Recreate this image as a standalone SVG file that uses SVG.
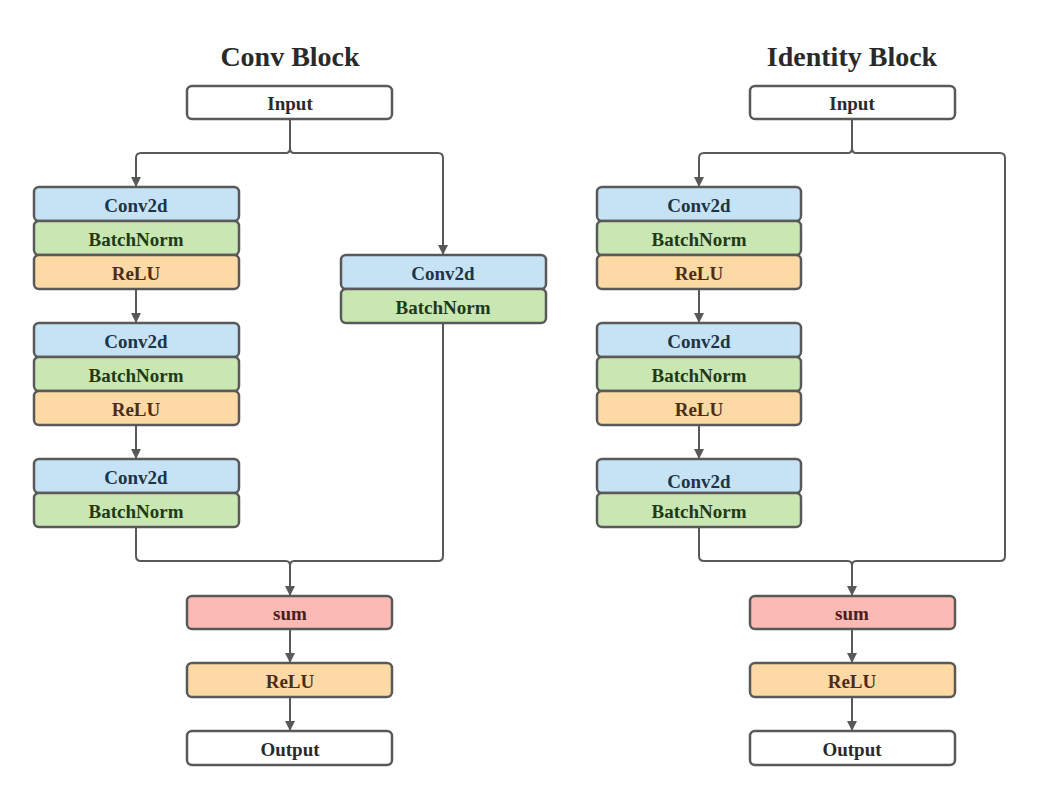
<svg xmlns="http://www.w3.org/2000/svg" width="1040" height="799" viewBox="0 0 1040 799">
<defs>
<marker id="ah" viewBox="0 0 10 10" refX="10" refY="5" markerWidth="10" markerHeight="10" markerUnits="userSpaceOnUse" orient="auto">
<path d="M0,0 L10,5 L0,10 Z" fill="#595959"/>
</marker>
<style>
.n{stroke:#595959;stroke-width:2.5}
.w{fill:#ffffff}.b{fill:#c6e3f6}.g{fill:#c9e7b2}.o{fill:#fdd9a6}.r{fill:#fbbab3}
text{font-family:"Liberation Serif","Times New Roman",serif;font-weight:bold;font-size:19px;text-anchor:middle}
.tw{fill:#2a2a2a}.tb{fill:#1e3447}.tg{fill:#1f3a18}.to{fill:#4a2e14}.tr{fill:#4a1e1e}
.title{font-size:28px;fill:#2a2a2a}
.c{fill:none;stroke:#595959;stroke-width:2}
</style>
</defs>
<rect width="1040" height="799" fill="#ffffff"/>
<text class="title" x="290" y="66">Conv Block</text>
<text class="title" x="852" y="66">Identity Block</text>

<g id="connectors">
<path class="c" d="M290,119 V148 Q290,153 286,153 H141 Q136,153 136,158 V187" marker-end="url(#ah)"/>
<path class="c" d="M290,148 Q290,153 294,153 H438 Q443,153 443,158 V255" marker-end="url(#ah)"/>
<path class="c" d="M136,289 V323" marker-end="url(#ah)"/>
<path class="c" d="M136,425 V459" marker-end="url(#ah)"/>
<path class="c" d="M136,527 V556 Q136,561 141,561 H286 Q290,561 290,566 V596" marker-end="url(#ah)"/>
<path class="c" d="M443,323 V556 Q443,561 438,561 H294 Q290,561 290,566"/>
<path class="c" d="M290,629 V663" marker-end="url(#ah)"/>
<path class="c" d="M290,697 V731" marker-end="url(#ah)"/>
<path class="c" d="M852,119 V148 Q852,153 848,153 H704 Q699,153 699,158 V187" marker-end="url(#ah)"/>
<path class="c" d="M852,148 Q852,153 856,153 H1000 Q1005,153 1005,158 V556 Q1005,561 1000,561 H856 Q852,561 852,566"/>
<path class="c" d="M699,289 V323" marker-end="url(#ah)"/>
<path class="c" d="M699,425 V459" marker-end="url(#ah)"/>
<path class="c" d="M699,527 V556 Q699,561 704,561 H848 Q852,561 852,566 V596" marker-end="url(#ah)"/>
<path class="c" d="M852,629 V663" marker-end="url(#ah)"/>
<path class="c" d="M852,697 V731" marker-end="url(#ah)"/>
</g>

<g id="cb-input"><rect class="n w" x="187" y="86" width="205" height="33" rx="5"/><text class="tw" x="290" y="110">Input</text></g>
<g id="cb-conv1"><rect class="n b" x="34" y="187" width="205" height="34" rx="5"/><text class="tb" x="136" y="212">Conv2d</text></g>
<g id="cb-bn1"><rect class="n g" x="34" y="221" width="205" height="34" rx="5"/><text class="tg" x="136" y="246">BatchNorm</text></g>
<g id="cb-relu1"><rect class="n o" x="34" y="255" width="205" height="34" rx="5"/><text class="to" x="136" y="280">ReLU</text></g>
<g id="cb-conv2"><rect class="n b" x="34" y="323" width="205" height="34" rx="5"/><text class="tb" x="136" y="348">Conv2d</text></g>
<g id="cb-bn2"><rect class="n g" x="34" y="357" width="205" height="34" rx="5"/><text class="tg" x="136" y="382">BatchNorm</text></g>
<g id="cb-relu2"><rect class="n o" x="34" y="391" width="205" height="34" rx="5"/><text class="to" x="136" y="416">ReLU</text></g>
<g id="cb-conv3"><rect class="n b" x="34" y="459" width="205" height="34" rx="5"/><text class="tb" x="136" y="484">Conv2d</text></g>
<g id="cb-bn3"><rect class="n g" x="34" y="493" width="205" height="34" rx="5"/><text class="tg" x="136" y="518">BatchNorm</text></g>
<g id="cb-sconv"><rect class="n b" x="341" y="255" width="205" height="34" rx="5"/><text class="tb" x="443" y="280">Conv2d</text></g>
<g id="cb-sbn"><rect class="n g" x="341" y="289" width="205" height="34" rx="5"/><text class="tg" x="443" y="314">BatchNorm</text></g>
<g id="cb-sum"><rect class="n r" x="187" y="596" width="205" height="33" rx="5"/><text class="tr" x="290" y="620">sum</text></g>
<g id="cb-relu"><rect class="n o" x="187" y="663" width="205" height="34" rx="5"/><text class="to" x="290" y="688">ReLU</text></g>
<g id="cb-output"><rect class="n w" x="187" y="731" width="205" height="34" rx="5"/><text class="tw" x="290" y="756">Output</text></g>

<g id="ib-input"><rect class="n w" x="750" y="86" width="205" height="33" rx="5"/><text class="tw" x="852" y="110">Input</text></g>
<g id="ib-conv1"><rect class="n b" x="597" y="187" width="204" height="34" rx="5"/><text class="tb" x="699" y="212">Conv2d</text></g>
<g id="ib-bn1"><rect class="n g" x="597" y="221" width="204" height="34" rx="5"/><text class="tg" x="699" y="246">BatchNorm</text></g>
<g id="ib-relu1"><rect class="n o" x="597" y="255" width="204" height="34" rx="5"/><text class="to" x="699" y="280">ReLU</text></g>
<g id="ib-conv2"><rect class="n b" x="597" y="323" width="204" height="34" rx="5"/><text class="tb" x="699" y="348">Conv2d</text></g>
<g id="ib-bn2"><rect class="n g" x="597" y="357" width="204" height="34" rx="5"/><text class="tg" x="699" y="382">BatchNorm</text></g>
<g id="ib-relu2"><rect class="n o" x="597" y="391" width="204" height="34" rx="5"/><text class="to" x="699" y="416">ReLU</text></g>
<g id="ib-conv3"><rect class="n b" x="597" y="459" width="204" height="34" rx="5"/><text class="tb" x="699" y="488">Conv2d</text></g>
<g id="ib-bn3"><rect class="n g" x="597" y="493" width="204" height="34" rx="5"/><text class="tg" x="699" y="518">BatchNorm</text></g>
<g id="ib-sum"><rect class="n r" x="750" y="596" width="205" height="33" rx="5"/><text class="tr" x="852" y="620">sum</text></g>
<g id="ib-relu"><rect class="n o" x="750" y="663" width="205" height="34" rx="5"/><text class="to" x="852" y="688">ReLU</text></g>
<g id="ib-output"><rect class="n w" x="750" y="731" width="205" height="34" rx="5"/><text class="tw" x="852" y="756">Output</text></g>
</svg>
